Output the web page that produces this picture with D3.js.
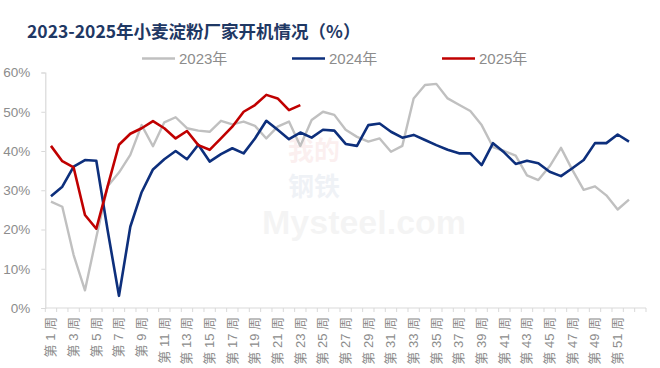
<!DOCTYPE html>
<html>
<head>
<meta charset="utf-8">
<script src="https://cdn.jsdelivr.net/npm/d3@7"></script>
<style>
  body { margin: 0; background: #fff; }
  svg { font-family: "Noto Sans CJK SC", "Liberation Sans", sans-serif; }
</style>
</head>
<body>
<div id="app"></div>
<script>
// weeks 1..52 (axis has room for 53 slots)
const weeks = d3.range(1, 54);
const yTicks = [0, 10, 20, 30, 40, 50, 60];

const y2023 = [27.1, 25.8, 13.5, 4.5, 18, 31, 34.5, 39, 46.6, 41.2, 47.3, 48.6, 45.8, 45.2, 44.9, 47.7,
  46.8, 47.5, 46.4, 43.2, 46.2, 47.5, 41.3, 47.9, 50.0, 49.2, 45.4, 43.6, 42.4, 43.2, 39.8, 41.3,
  53.4, 56.8, 57.1, 53.4, 51.8, 50.2, 46.6, 41.0, 40.0, 38.8, 33.8, 32.6, 36.1, 40.8, 35.2, 30.1,
  31.0, 28.7, 25.1, 27.6];
const y2024 = [28.5, 30.9, 36.0, 37.7, 37.5, 19.8, 3.1, 20.7, 29.5, 35.3, 37.9, 40.0, 37.9, 41.6, 37.3, 39.2,
  40.7, 39.4, 43.2, 47.7, 45.4, 43.0, 44.7, 43.4, 45.4, 45.2, 41.8, 41.3, 46.6, 47.0, 44.9, 43.4,
  44.1, 42.8, 41.5, 40.3, 39.4, 39.4, 36.4, 42.0, 39.6, 36.7, 37.5, 36.9, 34.7, 33.6, 35.6, 37.7,
  42.0, 42.0, 44.2, 42.4];
const y2025 = [41.3, 37.4, 35.8, 23.7, 20.2, 31, 41.6, 44.4, 45.8, 47.6, 45.8, 43.2, 45.1, 41.5, 40.3, 43.2,
  46.2, 50.0, 51.7, 54.3, 53.4, 50.4, 51.7];

const series = [
  { name: '2023年', values: y2023, color: '#c0c0c0', width: 2.4 },
  { name: '2024年', values: y2024, color: '#0d2f7c', width: 2.6 },
  { name: '2025年', values: y2025, color: '#c00000', width: 2.6 },
];

const width = 660, height = 368;
const svg = d3.select('#app').append('svg')
  .attr('width', width).attr('height', height);

const x = d3.scaleBand().domain(weeks).range([45.3, 646]);
const y = d3.scaleLinear().domain([0, 60]).range([308, 72.5]);
const cx = (w) => x(w) + x.bandwidth() / 2;

// title
svg.append('text')
  .attr('x', 27).attr('y', 38)
  .attr('font-size', 17.5).attr('font-weight', 'bold')
  .attr('fill', '#1f3864')
  .text('2023-2025年小麦淀粉厂家开机情况（%）');

// watermark
const wm = svg.append('g').attr('opacity', 0.06);
wm.append('text').attr('x', 288).attr('y', 160)
  .attr('font-size', 26).attr('font-weight', 'bold').attr('fill', '#c00000').text('我的');
wm.append('text').attr('x', 288).attr('y', 196)
  .attr('font-size', 26).attr('font-weight', 'bold').attr('fill', '#0d2f7c').text('钢铁');
wm.append('text').attr('x', 262).attr('y', 234)
  .attr('font-size', 34).attr('font-family', 'Liberation Sans, sans-serif')
  .attr('font-weight', 'bold').attr('fill', '#555').text('Mysteel.com');

// legend
const legend = svg.append('g');
const legX = [142, 292, 442];
series.forEach((s, i) => {
  legend.append('line')
    .attr('x1', legX[i]).attr('x2', legX[i] + 33)
    .attr('y1', 58.5).attr('y2', 58.5)
    .attr('stroke', s.color).attr('stroke-width', 2.6);
  legend.append('text')
    .attr('x', legX[i] + 37).attr('y', 64)
    .attr('font-size', 15).attr('fill', '#8c8c8c')
    .attr('font-family', 'Liberation Sans, Noto Sans CJK SC, sans-serif')
    .text(s.name);
});

// y axis
const yAxis = svg.append('g')
  .attr('transform', 'translate(45.3,0)')
  .call(d3.axisLeft(y).tickValues(yTicks).tickFormat((d) => d + '%').tickSize(4).tickPadding(11));
yAxis.select('.domain').attr('stroke', '#d9d9d9').attr('stroke-width', 1.2);
yAxis.selectAll('.tick line').attr('stroke', '#d9d9d9');
yAxis.selectAll('.tick text')
  .attr('font-size', 13.5).attr('fill', '#8c8c8c')
  .attr('font-family', 'Liberation Sans, sans-serif');

// x axis with ticks on band boundaries
const xg = svg.append('g');
xg.append('line')
  .attr('x1', 45.3).attr('x2', 646).attr('y1', 308).attr('y2', 308)
  .attr('stroke', '#d9d9d9').attr('stroke-width', 1.2);
xg.selectAll('line.tk')
  .data(weeks.concat([54]))
  .join('line')
  .attr('class', 'tk')
  .attr('x1', (w) => (w === 54 ? 646 : x(w)))
  .attr('x2', (w) => (w === 54 ? 646 : x(w)))
  .attr('y1', 308).attr('y2', 312)
  .attr('stroke', '#d9d9d9');
xg.selectAll('text')
  .data(weeks.filter((w) => w % 2 === 1 && w <= 51))
  .join('text')
  .attr('transform', (w) => `translate(${cx(w) + 4.5},317) rotate(-90)`)
  .attr('text-anchor', 'end')
  .attr('font-size', 13).attr('fill', '#8c8c8c')
  .attr('font-family', 'Liberation Sans, Noto Sans CJK SC, sans-serif')
  .text((w) => '第 ' + w + ' 周');

// lines
const line = d3.line()
  .x((d, i) => cx(i + 1))
  .y((d) => y(d));

svg.append('g').selectAll('path')
  .data(series)
  .join('path')
  .attr('d', (s) => line(s.values))
  .attr('fill', 'none')
  .attr('stroke', (s) => s.color)
  .attr('stroke-width', (s) => s.width)
  .attr('stroke-linejoin', 'round');
</script>
</body>
</html>
